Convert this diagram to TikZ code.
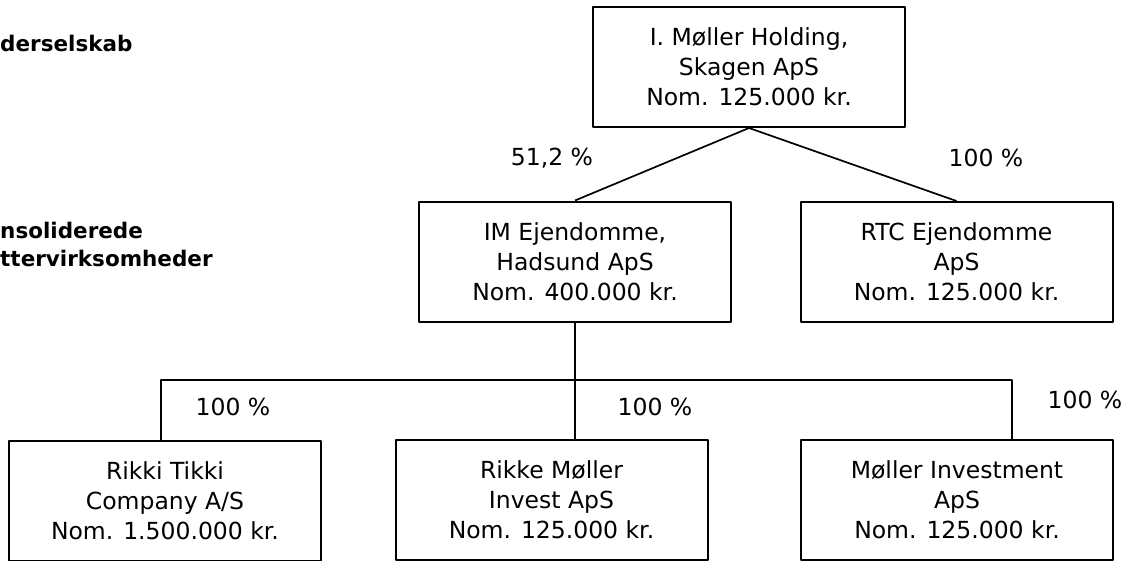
\documentclass[tikz,border=0pt]{standalone}
\usepackage{fontspec}
\setmainfont{DejaVu Sans}
\tikzset{
  firm/.style={draw, line width=2pt, minimum width=312pt, minimum height=120pt, align=center, inner sep=0pt, font=\fontsize{23.5}{30}\selectfont},
  share/.style={font=\fontsize{23.5}{30}\selectfont},
  level/.style={anchor=west, align=left, inner sep=0pt, font=\bfseries\fontsize{21.5}{28}\selectfont}
}
\begin{document}
\begin{tikzpicture}[x=1pt, y=-1pt, line join=round]
\useasboundingbox (0,0) rectangle (1131,560);
% niveauer
\node[level] (moder) at (0,43) {derselskab};
\node[level] (datter) at (0,244) {nsoliderede\\ttervirksomheder};
% selskaber
\node[firm] (holding) at (749,67) {I. Møller Holding,\\Skagen ApS\\Nom. 125.000 kr.};
\node[firm] (im) at (575,261.5) {IM Ejendomme,\\Hadsund ApS\\Nom. 400.000 kr.};
\node[firm] (rtc) at (956.5,262) {RTC Ejendomme\\ApS\\Nom. 125.000 kr.};
\node[firm] (rikki) at (165,501) {Rikki Tikki\\Company A/S\\Nom. 1.500.000 kr.};
\node[firm] (rikke) at (551.5,500) {Rikke Møller\\Invest ApS\\Nom. 125.000 kr.};
\node[firm] (invest) at (957,500) {Møller Investment\\ApS\\Nom. 125.000 kr.};
% ejerandele
\node[share] (p512) at (552,158) {51,2 \%};
\node[share] (prtc) at (986,158) {100 \%};
\node[share] (prikki) at (233,407) {100 \%};
\node[share] (prikke) at (655,407) {100 \%};
\node[share] (pinvest) at (1085,400) {100 \%};
% forbindelser
\coordinate (dropL) at (161,380);
\coordinate (dropR) at (1012,380);
\draw[line width=1.7pt] (holding.south) -- (im.north);
\draw[line width=1.7pt] (holding.south) -- (rtc.north);
\draw[line width=1.7pt] (im.south) -- (im.south |- rikke.north);
\draw[line width=1.7pt] (dropL |- rikki.north) -- (dropL) -- (dropR) -- (dropR |- invest.north);
\end{tikzpicture}
\end{document}
